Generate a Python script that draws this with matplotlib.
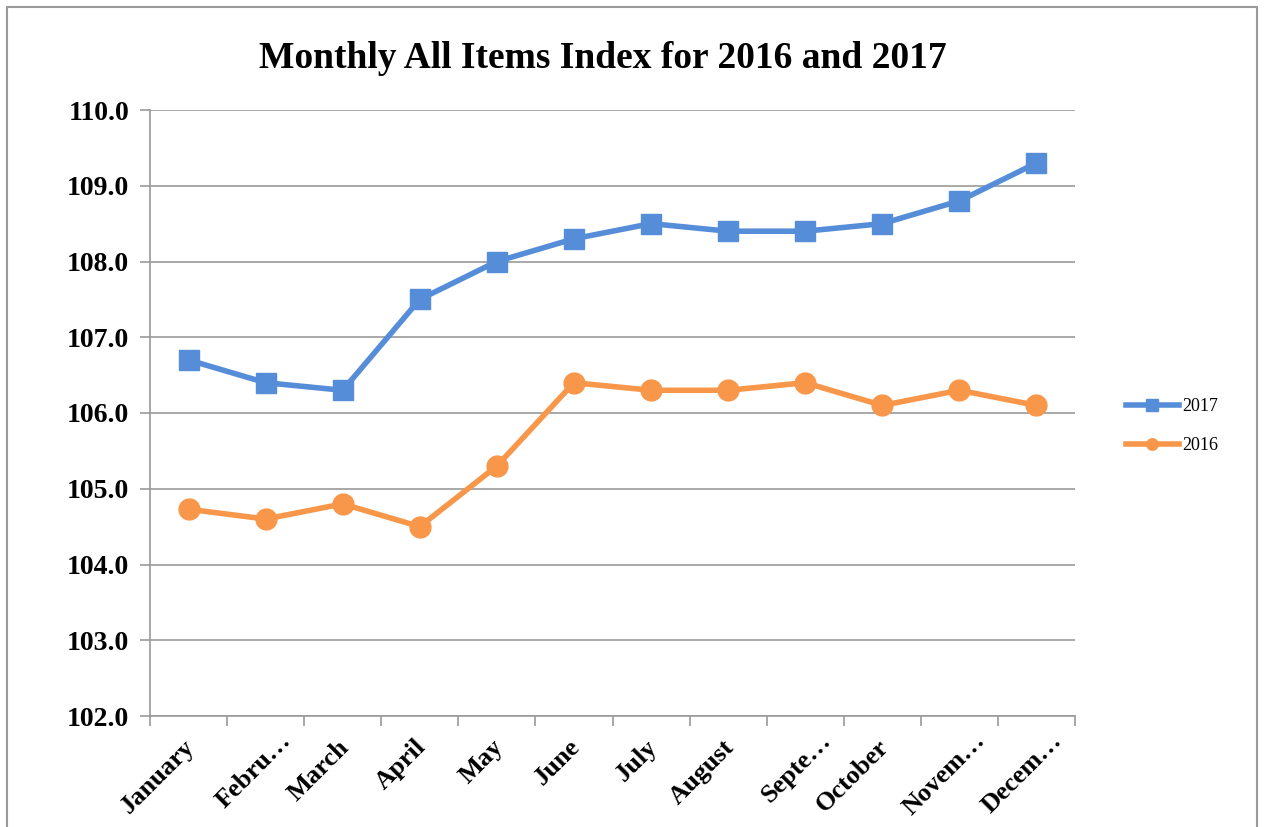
import matplotlib.pyplot as plt
import matplotlib.transforms as mtransforms
from matplotlib.patches import Rectangle

months = ["January", "Febru…", "March", "April", "May", "June",
          "July", "August", "Septe…", "October", "Novem…", "Decem…"]
idx_2017 = [106.7, 106.4, 106.3, 107.5, 108.0, 108.3, 108.5, 108.4, 108.4, 108.5, 108.8, 109.3]
idx_2016 = [104.73, 104.6, 104.8, 104.5, 105.3, 106.4, 106.3, 106.3, 106.4, 106.1, 106.3, 106.1]
y_ticks = [102.0, 103.0, 104.0, 105.0, 106.0, 107.0, 108.0, 109.0, 110.0]

blue = '#568DD8'
orange = '#F8964A'
grey = '#9A9A9A'

plt.rcParams['font.family'] = ['Liberation Serif', 'DejaVu Serif']

fig = plt.figure(figsize=(12.64, 8.27), dpi=100)
ax = fig.add_axes([150/1264, 1-716/827, (1075-150)/1264, (716-110)/827])

# outer chart frame (bottom edge runs off the picture)
fig.patches.append(Rectangle((7/1264, -0.05), (1257-7)/1264, 1.05-7/827,
                             transform=fig.transFigure, fill=False,
                             edgecolor=grey, linewidth=1.5))

x = list(range(len(months)))
ax.plot(x, idx_2017, color=blue, linewidth=4, marker='s', markersize=14.5,
        label='2017', zorder=3)
ax.plot(x, idx_2016, color=orange, linewidth=4, marker='o', markersize=15,
        label='2016', zorder=3)

ax.set_xlim(-0.5, len(months) - 0.5)
ax.set_ylim(102, 110)
ax.set_yticks(y_ticks)
ax.set_yticklabels([f"{v:.1f}" for v in y_ticks], fontsize=20, fontweight='bold')
ax.yaxis.grid(True, color=grey, linewidth=1.2)
ax.set_axisbelow(True)

ax.set_xticks(x)
ax.set_xticks([i - 0.5 for i in range(len(months) + 1)], minor=True)
ax.set_xticklabels(months, fontsize=19, fontweight='bold', rotation=45,
                   ha='right', rotation_mode='anchor')
ax.tick_params(axis='x', which='major', length=0, pad=14)
ax.tick_params(axis='x', which='minor', length=7, color=grey, width=1.2)
ax.tick_params(axis='y', length=7, color=grey, width=1.2, pad=8)
# truncated labels sit a bit further right/up, like the original
for lbl in ax.get_xticklabels():
    if lbl.get_text().endswith('…'):
        off = mtransforms.ScaledTranslation(10/72, 5/72, fig.dpi_scale_trans)
    else:
        off = mtransforms.ScaledTranslation(-4/72, 0, fig.dpi_scale_trans)
    lbl.set_transform(lbl.get_transform() + off)

for side in ['top', 'right']:
    ax.spines[side].set_visible(False)
for side in ['left', 'bottom']:
    ax.spines[side].set_color(grey)
    ax.spines[side].set_linewidth(1.2)

fig.text(603/1264, 1-58/827, "Monthly All Items Index for 2016 and 2017",
         ha='center', va='center', fontsize=27, fontweight='bold')

fig.legend(loc='center left', bbox_to_anchor=(1110/1264, 1-426/827),
           frameon=False, fontsize=13, handlelength=2.9, handletextpad=0.2,
           labelspacing=1.2, markerscale=0.55)

fig.savefig('out.png', dpi=100)
